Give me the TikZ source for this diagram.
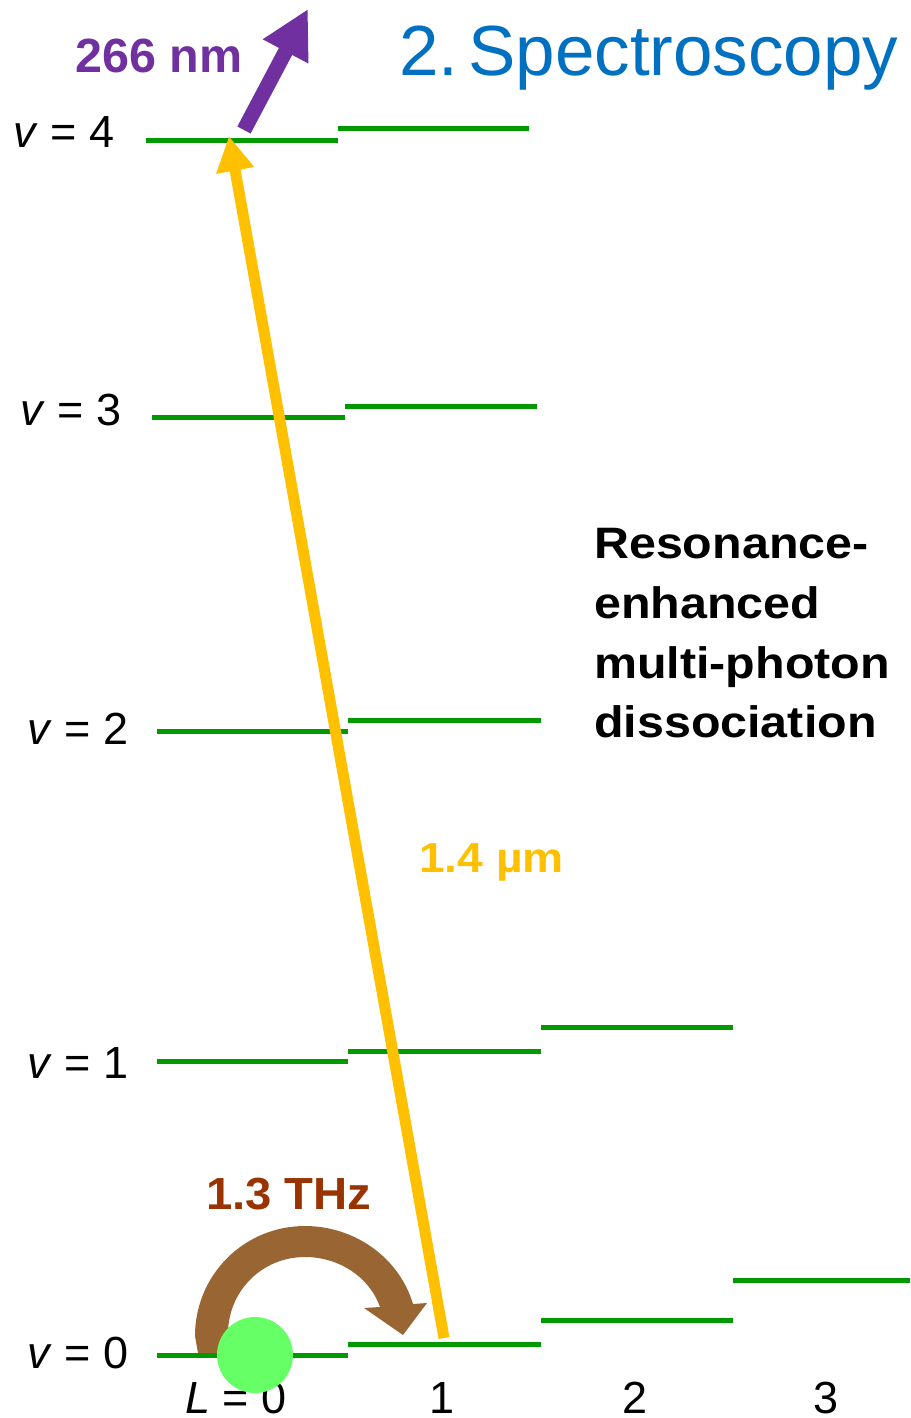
\documentclass[tikz,border=0pt]{standalone}
\usepackage{fontspec}
\usepackage{graphicx}
\setmainfont{Liberation Sans}
\usetikzlibrary{arrows.meta}
\definecolor{titleblue}{RGB}{0,112,192}
\definecolor{uvpurple}{RGB}{112,48,160}
\definecolor{levelgreen}{RGB}{0,153,0}
\definecolor{dotgreen}{RGB}{102,255,102}
\definecolor{thzbrown}{RGB}{153,102,51}
\definecolor{thztext}{RGB}{153,51,0}
\definecolor{iryellow}{RGB}{255,192,0}
\tikzset{
  level/.style={draw=levelgreen, line width=5pt},
  vlab/.style={anchor=base west, inner sep=0pt, font=\fontsize{45}{54}\selectfont},
  llab/.style={anchor=base, inner sep=0pt, font=\fontsize{45}{54}\selectfont},
  reslab/.style={anchor=base west, inner sep=0pt, font=\bfseries\fontsize{44}{53}\selectfont},
  txt/.style={inner sep=0pt, anchor=base west}
}
\begin{document}
\begin{tikzpicture}[x=1pt,y=-1pt]
\useasboundingbox (0,0) rectangle (910,1418);

% title
\node[txt, text=titleblue, font=\fontsize{71}{85}\selectfont] (title) at (399,76) {2.\hspace{0.14em}Spectroscopy};

% energy levels, L = 0
\draw[level] (146,140.5) -- (338,140.5);
\draw[level] (152,417) -- (345,417);
\draw[level] (157,731) -- (348,731);
\draw[level] (157,1061) -- (348,1061);
\draw[level] (157,1355) -- (348,1355);
% L = 1
\draw[level] (338,129) -- (529,129);
\draw[level] (345,406) -- (537,406);
\draw[level] (348,720) -- (541,720);
\draw[level] (348,1051) -- (541,1051);
\draw[level] (348,1344) -- (541,1344);
% L = 2
\draw[level] (541,1027) -- (733,1027);
\draw[level] (541,1320) -- (733,1320);
% L = 3
\draw[level] (733,1280) -- (910,1280);

% v labels
\node[vlab] (v4) at (13,147) {\textit{v} = 4};
\node[vlab] (v3) at (20,425) {\textit{v} = 3};
\node[vlab] (v2) at (27,744) {\textit{v} = 2};
\node[vlab] (v1) at (27,1078) {\textit{v} = 1};
\node[vlab] (v0) at (27,1368) {\textit{v} = 0};

% L labels
\node[vlab] (L0) at (185,1413) {\textit{L} = 0};
\node[llab] (L1) at (442,1413) {1};
\node[llab] (L2) at (635,1413) {2};
\node[llab] (L3) at (826,1413) {3};

% THz curved arrow
\fill[thzbrown] (198,1353) -- (195,1336)
  .. controls (195,1275) and (244,1226) .. (305,1226)
  .. controls (354,1226) and (399,1257) .. (413,1304)
  -- (427,1303) -- (403,1335) -- (364,1308) -- (380,1307)
  .. controls (369,1276) and (338,1257) .. (305,1257)
  .. controls (262,1257) and (228,1291) .. (228,1334)
  -- (226,1353) -- cycle;

% ion (green dot)
\node[circle, fill=dotgreen, minimum size=76pt, inner sep=0pt] (ion) at (255,1355) {};

% 1.4 um arrow
\coordinate (irstart) at (444,1338);
\coordinate (irtip) at (229,136);
\draw[iryellow, line width=11pt, -{Triangle[length=35pt, width=36pt]}] (irstart) -- (irtip);

% 266 nm arrow
\coordinate (uvstart) at (244,130);
\coordinate (uvtip) at (308,9);
\draw[uvpurple, line width=15pt, -{Triangle[length=48pt, width=48pt]}] (uvstart) -- (uvtip);

% labels
\node[txt, text=uvpurple, font=\bfseries\fontsize{48}{58}\selectfont] (uvlab) at (75,73) {\scalebox{1.01}[1]{266 nm}};
\node[txt, text=iryellow, font=\bfseries\fontsize{42}{50}\selectfont] (irlab) at (419,872) {\scalebox{1.1}[1]{1.4 µm}};
\node[txt, text=thztext, font=\bfseries\fontsize{45}{54}\selectfont] (thzlab) at (206,1209) {\scalebox{1.05}[1]{1.3 THz}};

% description
\node[reslab] (res1) at (594,558) {\scalebox{1.1}[1]{Resonance-}};
\node[reslab] (res2) at (594,618) {\scalebox{1.1}[1]{enhanced}};
\node[reslab] (res3) at (594,678) {\scalebox{1.1}[1]{multi-photon}};
\node[reslab] (res4) at (594,737) {\scalebox{1.1}[1]{dissociation}};
\end{tikzpicture}
\end{document}
